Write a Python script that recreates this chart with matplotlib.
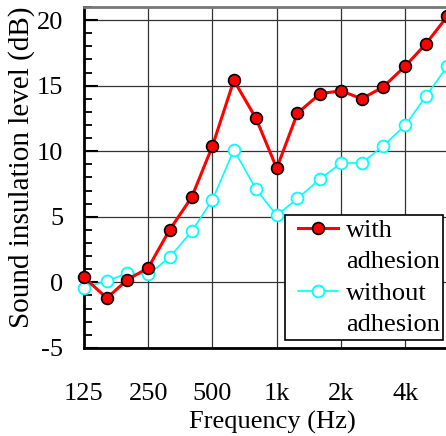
import numpy as np
import matplotlib
matplotlib.use('Agg')
import matplotlib.pyplot as plt
from matplotlib.legend_handler import HandlerLine2D
from matplotlib.lines import Line2D
from matplotlib.ticker import FixedLocator, MultipleLocator

plt.rcParams['font.family'] = 'Liberation Serif'
plt.rcParams['axes.unicode_minus'] = False

# one-third octave band centre frequencies
freq = [125, 160, 200, 250, 315, 400, 500, 630, 800, 1000,
        1250, 1600, 2000, 2500, 3150, 4000, 5000, 6300]
with_adhesion = [0.4, -1.2, 0.2, 1.1, 4.0, 6.5, 10.4, 15.4, 12.5, 8.7,
                 12.9, 14.4, 14.6, 14.0, 14.9, 16.5, 18.2, 20.3]
without_adhesion = [-0.4, 0.1, 0.7, 0.6, 1.9, 3.9, 6.3, 10.1, 7.1, 5.1,
                    6.4, 7.9, 9.1, 9.1, 10.4, 12.0, 14.2, 16.5]
xtick_vals = [125, 250, 500, 1000, 2000, 4000]
xtick_labels = ['125', '250', '500', '1k', '2k', '4k']


class IndentedLine(HandlerLine2D):
    """Legend line pushed right, leaving a gap after the frame edge."""
    def __init__(self, indent=6.5, **kw):
        super().__init__(**kw)
        self.indent = indent

    def create_artists(self, legend, orig_handle, xdescent, ydescent,
                       width, height, fontsize, trans):
        return super().create_artists(legend, orig_handle,
                                      xdescent - self.indent, ydescent,
                                      width - self.indent, height,
                                      fontsize, trans)


fig = plt.figure(figsize=(4.46, 4.36), dpi=100)
ax = fig.add_axes([0.188, 0.202, 0.812, 0.782])

red_style = dict(color='red', lw=2.2, marker='o', ms=8.5,
                 mfc='red', mec='black', mew=1.2)
cyan_style = dict(color='cyan', lw=1.2, marker='o', ms=8.5,
                  mfc='white', mec='cyan', mew=1.3)

ax.plot(freq, with_adhesion, clip_on=False, zorder=4, **red_style)
ax.plot(freq, without_adhesion, clip_on=False, zorder=3, **cyan_style)

ax.set_xscale('log')
ax.set_xlim(125, 6200)
ax.set_ylim(-5, 21)
ax.xaxis.set_major_locator(FixedLocator(xtick_vals))
ax.xaxis.set_minor_locator(FixedLocator([]))
ax.set_xticklabels(xtick_labels)
ax.yaxis.set_major_locator(MultipleLocator(5))
ax.yaxis.set_minor_locator(MultipleLocator(1))

ax.grid(True, which='major', color='#333333', lw=0.9)
ax.tick_params(axis='y', which='major', direction='in', length=10, width=1.5,
               labelsize=19, pad=15)
ax.tick_params(axis='y', which='minor', direction='in', length=6, width=1.3)
ax.tick_params(axis='x', which='major', length=0, labelsize=19, pad=25)

for s in ['left', 'bottom']:
    ax.spines[s].set_linewidth(2)
ax.spines['top'].set_color('#777777')
ax.spines['top'].set_linewidth(2)
ax.spines['right'].set_visible(False)

ax.set_xlabel('Frequency (Hz)', fontsize=19)
ax.xaxis.set_label_coords(0.52, -0.185)
ax.set_ylabel('Sound insulation level (dB)', fontsize=21)
ax.yaxis.set_label_coords(-0.135, 0.53)

# each label sits on two rows, the marker next to the first row
blank = Line2D([], [], color='none')
handles = [Line2D([], [], **red_style), blank,
           Line2D([], [], **cyan_style), blank]
labels = ['with', 'adhesion', 'without', 'adhesion']
leg = ax.legend(handles, labels, loc='lower right', bbox_to_anchor=(0.993, 0.023),
                fontsize=19, fancybox=False, framealpha=1, edgecolor='black',
                handlelength=1.86, borderpad=0.15, labelspacing=0.3,
                handletextpad=0.3, borderaxespad=0,
                handler_map={Line2D: IndentedLine()})
leg.get_frame().set_linewidth(1.2)

fig.savefig('out.png', dpi=100)
